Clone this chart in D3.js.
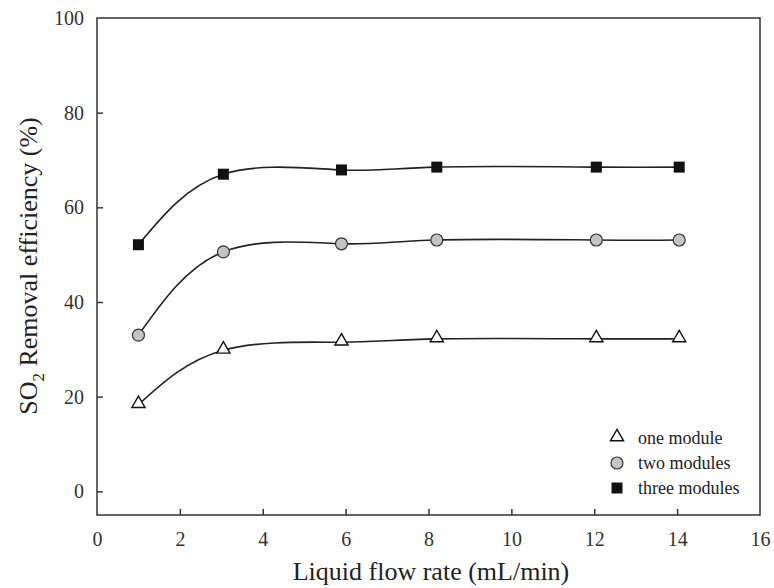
<!DOCTYPE html>
<html>
<head>
<meta charset="utf-8">
<script src="https://cdn.jsdelivr.net/npm/d3@7"></script>
<style>
  body { margin: 0; background: #fff; }
  svg { font-family: "Liberation Serif", "Times New Roman", serif; }
</style>
</head>
<body>
<svg class="chart"></svg>
<script>
// data
var flowRates = [1, 3.05, 5.9, 8.2, 12.05, 14.05];
var oneModule = [18.3, 29.8, 31.5, 32.2, 32.2, 32.2];
var twoModules = [33.0, 50.6, 52.3, 53.1, 53.1, 53.1];
var threeModules = [52.1, 67.0, 67.9, 68.5, 68.5, 68.5];
var xTicks = [0, 2, 4, 6, 8, 10, 12, 14, 16];
var yTicks = [0, 20, 40, 60, 80, 100];

var series = [
  { name: "one module", values: oneModule, shape: "triangle" },
  { name: "two modules", values: twoModules, shape: "circle" },
  { name: "three modules", values: threeModules, shape: "square" }
];

var W = 774, H = 588;
var margin = { left: 97, top: 18, right: 14, bottom: 73 };
var width = W - margin.left - margin.right;
var height = H - margin.top - margin.bottom;

var svg = d3.select(".chart").attr("width", W).attr("height", H);
var chart = svg.append("g")
  .attr("transform", "translate(" + margin.left + "," + margin.top + ")");

var x = d3.scaleLinear().domain([0, 16]).range([0, width]);
var y = d3.scaleLinear().domain([-5, 100]).range([height, 0]);

// frame
chart.append("rect")
  .attr("width", width).attr("height", height)
  .attr("fill", "none").attr("stroke", "#333").attr("stroke-width", 1.5);

// axes with inward ticks
var xAxis = d3.axisBottom(x).tickValues(xTicks).tickSize(-6).tickPadding(17);
var yAxis = d3.axisLeft(y).tickValues(yTicks).tickSize(-6).tickPadding(13);

var gx = chart.append("g").attr("transform", "translate(0," + height + ")").call(xAxis);
var gy = chart.append("g").call(yAxis);
[gx, gy].forEach(function(g){
  g.select(".domain").remove();
  g.selectAll("line").attr("stroke", "#333").attr("stroke-width", 1.5);
  g.selectAll("text").attr("fill", "#333").style("font-size", "20px")
    .style("font-family", "Liberation Serif, serif");
});
// hide the ticks at corners
gx.selectAll(".tick").filter(function(d){ return d === 0 || d === 16; }).select("line").remove();
gy.selectAll(".tick").filter(function(d){ return d === 100; }).select("line").remove();

// curves
var line = d3.line()
  .x(function(d){ return x(d[0]); })
  .y(function(d){ return y(d[1]); })
  .curve(d3.curveNatural);

series.forEach(function(s){
  var pts = flowRates.map(function(f, i){ return [f, s.values[i]]; });
  chart.append("path")
    .attr("d", line(pts))
    .attr("fill", "none").attr("stroke", "#222").attr("stroke-width", 1.6);
});

function drawMarker(g, shape, cx, cy){
  if (shape === "triangle") {
    g.append("path")
      .attr("d", d3.symbol().type(d3.symbolTriangle).size(75)())
      .attr("transform", "translate(" + cx + "," + (cy - 1) + ")")
      .attr("fill", "#fff").attr("stroke", "#111").attr("stroke-width", 1.4);
  } else if (shape === "circle") {
    g.append("circle").attr("cx", cx).attr("cy", cy).attr("r", 6)
      .attr("fill", "#c4c4c4").attr("stroke", "#333").attr("stroke-width", 1.2);
  } else {
    g.append("rect").attr("x", cx - 5.5).attr("y", cy - 5.5)
      .attr("width", 11).attr("height", 11).attr("fill", "#111");
  }
}

series.forEach(function(s){
  flowRates.forEach(function(f, i){
    drawMarker(chart, s.shape, x(f), y(s.values[i]));
  });
});

// legend
var legend = svg.append("g").attr("transform", "translate(617,438)");
series.forEach(function(s, i){
  var g = legend.append("g").attr("transform", "translate(0," + (i * 25) + ")");
  drawMarker(g, s.shape, 0, 0);
  g.append("text").attr("x", 21).attr("y", 6)
    .style("font-size", "18px").attr("fill", "#222").text(s.name);
});

// axis labels
svg.append("text")
  .attr("x", 431).attr("y", 580)
  .attr("text-anchor", "middle").style("font-size", "26px").attr("fill", "#222")
  .text("Liquid flow rate (mL/min)");

var yl = svg.append("text")
  .attr("transform", "translate(37,266) rotate(-90)")
  .attr("text-anchor", "middle").style("font-size", "26px").attr("fill", "#222");
yl.append("tspan").text("SO");
yl.append("tspan").attr("dy", 7).style("font-size", "17px").text("2");
yl.append("tspan").attr("dy", -7).text(" Removal efficiency (%)");
</script>
</body>
</html>
